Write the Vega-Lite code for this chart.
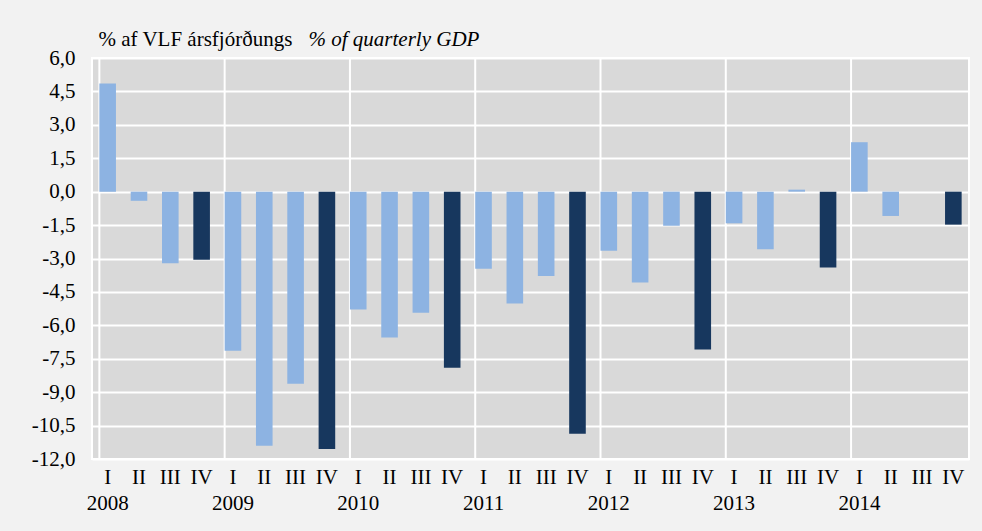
{
  "$schema": "https://vega.github.io/schema/vega-lite/v6.json",
  "width": 877,
  "height": 401,
  "autosize": {"type": "none"},
  "padding": {"left": 92, "top": 58, "right": 13, "bottom": 72},
  "background": "#f2f2f2",
  "config": {
    "view": {"fill": "#d9d9d9", "stroke": "white", "strokeWidth": 2},
    "font": "Liberation Serif",
    "axisY": {
      "grid": true,
      "gridColor": "white",
      "gridWidth": 2,
      "gridOpacity": 1,
      "domain": false,
      "ticks": false,
      "labelPadding": 17,
      "labelFontSize": 21,
      "labelFont": "Liberation Serif",
      "labelColor": "black",
      "labelFlush": false,
      "labelOverlap": false,
      "labelBound": false,
      "titleAngle": 0,
      "titleX": 216,
      "titleY": -13,
      "titleAlign": "left",
      "titleBaseline": "alphabetic",
      "titleFontStyle": "italic",
      "titleFontWeight": "normal",
      "titleFontSize": 21,
      "titleFont": "Liberation Serif",
      "titleColor": "black"
    },
    "axisX": {
      "labelAngle": 0,
      "labelFontSize": 21,
      "labelFont": "Liberation Serif",
      "labelLineHeight": 26,
      "labelPadding": 7,
      "labelColor": "black",
      "labelOverlap": false,
      "labelBound": false,
      "domain": false,
      "ticks": false,
      "grid": false,
      "titleX": 6,
      "titleY": -414,
      "titleAlign": "left",
      "titleBaseline": "alphabetic",
      "titleFontWeight": "normal",
      "titleFontSize": 21,
      "titleFont": "Liberation Serif",
      "titleColor": "black"
    }
  },
  "data": {
    "values": [
      {"period": "2008 I", "year": "2008", "quarter": "I", "value": 4.85},
      {"period": "2008 II", "year": "2008", "quarter": "II", "value": -0.41},
      {"period": "2008 III", "year": "2008", "quarter": "III", "value": -3.21},
      {"period": "2008 IV", "year": "2008", "quarter": "IV", "value": -3.06},
      {"period": "2009 I", "year": "2009", "quarter": "I", "value": -7.14},
      {"period": "2009 II", "year": "2009", "quarter": "II", "value": -11.41},
      {"period": "2009 III", "year": "2009", "quarter": "III", "value": -8.62},
      {"period": "2009 IV", "year": "2009", "quarter": "IV", "value": -11.55},
      {"period": "2010 I", "year": "2010", "quarter": "I", "value": -5.29},
      {"period": "2010 II", "year": "2010", "quarter": "II", "value": -6.55},
      {"period": "2010 III", "year": "2010", "quarter": "III", "value": -5.43},
      {"period": "2010 IV", "year": "2010", "quarter": "IV", "value": -7.9},
      {"period": "2011 I", "year": "2011", "quarter": "I", "value": -3.46},
      {"period": "2011 II", "year": "2011", "quarter": "II", "value": -5.02},
      {"period": "2011 III", "year": "2011", "quarter": "III", "value": -3.78},
      {"period": "2011 IV", "year": "2011", "quarter": "IV", "value": -10.87},
      {"period": "2012 I", "year": "2012", "quarter": "I", "value": -2.65},
      {"period": "2012 II", "year": "2012", "quarter": "II", "value": -4.08},
      {"period": "2012 III", "year": "2012", "quarter": "III", "value": -1.53},
      {"period": "2012 IV", "year": "2012", "quarter": "IV", "value": -7.09},
      {"period": "2013 I", "year": "2013", "quarter": "I", "value": -1.42},
      {"period": "2013 II", "year": "2013", "quarter": "II", "value": -2.59},
      {"period": "2013 III", "year": "2013", "quarter": "III", "value": 0.09},
      {"period": "2013 IV", "year": "2013", "quarter": "IV", "value": -3.4},
      {"period": "2014 I", "year": "2014", "quarter": "I", "value": 2.22},
      {"period": "2014 II", "year": "2014", "quarter": "II", "value": -1.09},
      {"period": "2014 III", "year": "2014", "quarter": "III", "value": 0},
      {"period": "2014 IV", "year": "2014", "quarter": "IV", "value": -1.48}
    ]
  },
  "encoding": {
    "x": {
      "field": "period",
      "type": "nominal",
      "sort": null,
      "scale": {"paddingInner": 0.47, "paddingOuter": 0.235},
      "axis": {
        "labelExpr": "split(datum.value, ' ')[1] == 'I' ? ['I', split(datum.value, ' ')[0]] : split(datum.value, ' ')[1]",
        "title": "% af VLF ársfjórðungs"
      }
    },
    "y": {
      "field": "value",
      "type": "quantitative",
      "scale": {"domain": [-12, 6], "nice": false, "zero": false},
      "axis": {
        "values": [-12, -10.5, -9, -7.5, -6, -4.5, -3, -1.5, 0, 1.5, 3, 4.5, 6],
        "labelExpr": "replace(replace(format(datum.value, '.1f'), '.', ','), '−', '-')",
        "title": "% of quarterly GDP"
      }
    }
  },
  "layer": [
    {
      "mark": {"type": "rule", "color": "white", "strokeWidth": 2},
      "encoding": {
        "x": {"field": "period", "type": "nominal", "sort": null, "bandPosition": 0},
        "y": null,
        "strokeOpacity": {
          "condition": {"test": "datum.quarter == 'I'", "value": 1},
          "value": 0
        }
      }
    },
    {
      "mark": {"type": "bar"},
      "encoding": {
        "color": {
          "field": "quarter",
          "type": "nominal",
          "scale": {"domain": ["I", "II", "III", "IV"], "range": ["#8db3e2", "#8db3e2", "#8db3e2", "#17375e"]},
          "legend": null
        }
      }
    },
    {
      "mark": {"type": "rule", "color": "#808080", "strokeWidth": 1.75},
      "encoding": {
        "y": {
          "datum": 0,
          "type": "quantitative",
          "scale": {"domain": [-12, 6], "nice": false, "zero": false},
          "axis": {
            "values": [-12, -10.5, -9, -7.5, -6, -4.5, -3, -1.5, 0, 1.5, 3, 4.5, 6],
            "labelExpr": "replace(replace(format(datum.value, '.1f'), '.', ','), '−', '-')",
            "title": "% of quarterly GDP"
          }
        }
      }
    }
  ]
}
